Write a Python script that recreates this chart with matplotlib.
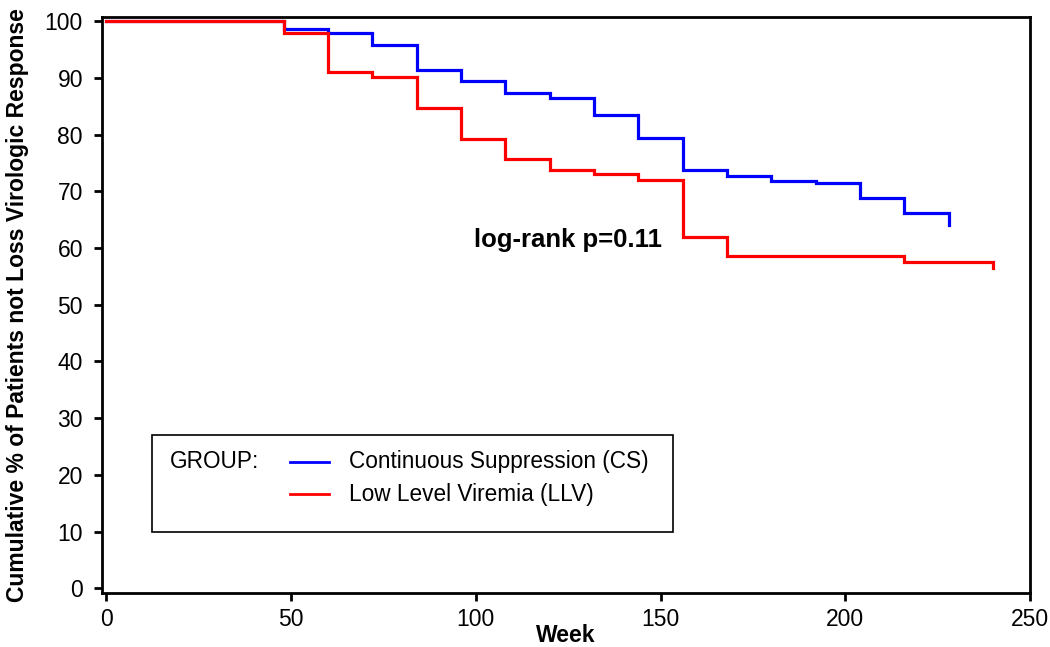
import matplotlib
matplotlib.use("Agg")
import matplotlib.pyplot as plt
from matplotlib.patches import Rectangle
from matplotlib.lines import Line2D

plt.rcParams['font.family'] = ['Liberation Sans', 'DejaVu Sans']

# Data (Kaplan-Meier steps)
cs_weeks = [0, 48, 60, 72, 84, 96, 108, 120, 132, 144, 156, 168, 180, 192, 204, 216, 228]
cs_pct = [100, 98.6, 97.9, 95.9, 91.4, 89.5, 87.3, 86.4, 83.4, 79.5, 73.8, 72.8, 71.9, 71.4, 68.8, 66.2, 64.0]
llv_weeks = [0, 48, 60, 72, 84, 96, 108, 120, 132, 144, 156, 168, 216, 240]
llv_pct = [100, 98.0, 91.1, 90.1, 84.7, 79.2, 75.7, 73.8, 73.0, 72.0, 62.0, 58.6, 57.6, 56.5]
x_ticks = [0, 50, 100, 150, 200, 250]
y_ticks = [0, 10, 20, 30, 40, 50, 60, 70, 80, 90, 100]
labels = ["Continuous Suppression (CS)", "Low Level Viremia (LLV)"]

fig = plt.figure(figsize=(10.5, 6.47), dpi=100)
ax = fig.add_axes([0.0969, 0.083, 0.981 - 0.0969, 0.974 - 0.083])

ax.step(cs_weeks, cs_pct, where='post', color='#0000FF', lw=2.3, solid_joinstyle='miter')
ax.step(llv_weeks, llv_pct, where='post', color='#FF0000', lw=2.3, solid_joinstyle='miter')

ax.set_xlim(-1.2, 250)
ax.set_ylim(-0.9, 100.8)
ax.set_xticks(x_ticks)
ax.set_yticks(y_ticks)
ax.tick_params(direction='out', length=5.5, width=2, labelsize=16.5)
ax.tick_params(axis='x', pad=5)
ax.tick_params(axis='y', pad=8)
for s in ax.spines.values():
    s.set_linewidth(2)

ax.set_xlabel("Week", fontsize=16.5, fontweight='bold', labelpad=-5)
ax.set_ylabel("Cumulative % of Patients not Loss Virologic Response", fontsize=16.5,
              fontweight='bold', labelpad=11)

ax.text(99.5, 61.4, "log-rank p=0.11", fontsize=18.5, fontweight='bold', va='center', ha='left')

# Legend box (drawn manually in axes coordinates)
def ax_xy(px, py):
    return ((px - 101.7) / (1030 - 101.7), (593.3 - py) / (593.3 - 16.7))

x0, y0 = ax_xy(152.3, 531.7)
x1, y1 = ax_xy(672.7, 435)
ax.add_patch(Rectangle((x0, y0), x1 - x0, y1 - y0, transform=ax.transAxes,
                       fill=False, edgecolor='black', lw=1.2, zorder=5))
gx, gy = ax_xy(170, 461.7)
ax.text(gx, gy, "GROUP:", transform=ax.transAxes, fontsize=16.3, va='center', ha='left')
for i, (lab, col) in enumerate(zip(labels, ['#0000FF', '#FF0000'])):
    lx0, ly = ax_xy(290, 461.7 + i * 32.6)
    lx1, _ = ax_xy(329, 0)
    ax.add_line(Line2D([lx0, lx1], [ly, ly], transform=ax.transAxes, color=col, lw=2))
    tx, _ = ax_xy(349.3, 0)
    ax.text(tx, ly, lab, transform=ax.transAxes, fontsize=16.3, va='center', ha='left')

fig.savefig("out.png", dpi=100)
